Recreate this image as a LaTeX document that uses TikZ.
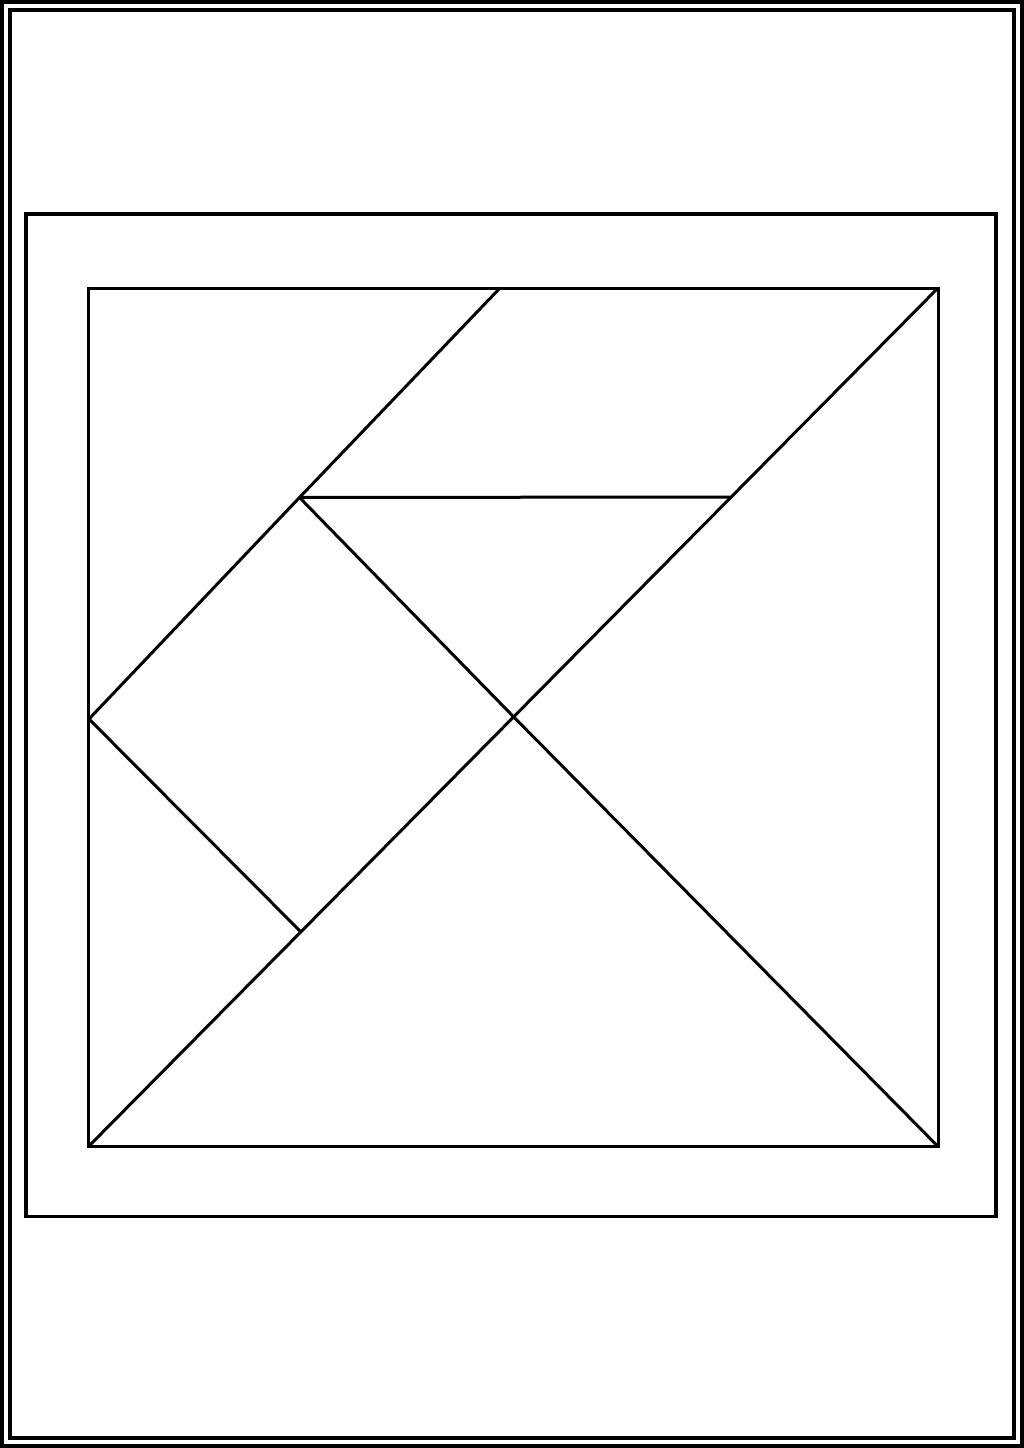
\documentclass[tikz,border=0pt]{standalone}
\begin{document}
\begin{tikzpicture}[x=1pt,y=-1pt,
  frame/.style={draw=black,line width=4pt},
  piece/.style={draw=black,line width=3pt,line join=miter}]
\useasboundingbox (0,0) rectangle (1024,1448);
\fill[white] (0,0) rectangle (1024,1448);
% page borders
\draw[frame] (2,2) rectangle (1022,1446);
\draw[frame] (10,10) rectangle (1014,1438);
% middle frame
\draw[line width=3.5pt] (26,214) rectangle (996,1216.5);
% tangram square
\coordinate (TL) at (88.5,288);
\coordinate (TR) at (938,288);
\coordinate (BL) at (88.5,1146.5);
\coordinate (BR) at (938,1146.5);
\coordinate (TM) at (500,288);
\coordinate (A) at (299.5,497.5);
\coordinate (B) at (730.5,497);
\coordinate (C) at (513.3,716.5);
\coordinate (L) at (89,719);
\coordinate (D) at (300.5,931.5);
\draw[piece] (TL) rectangle (BR);
\draw[piece] (BL) -- (TR);
\draw[piece] (C) -- (BR);
\draw[piece] (TM) -- (A) -- (L);
\draw[piece] (A) -- (B);
\draw[piece] (A) -- (C);
\draw[piece] (L) -- (D);
\end{tikzpicture}
\end{document}
